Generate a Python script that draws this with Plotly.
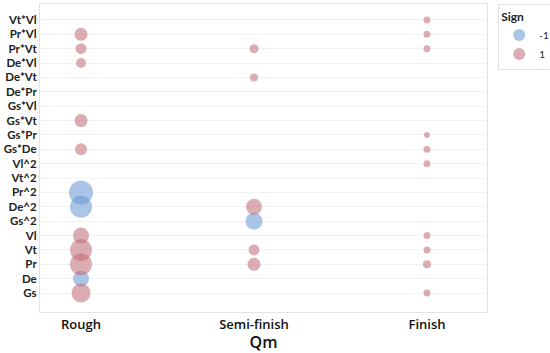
import plotly.graph_objects as go

terms = ["Gs", "De", "Pr", "Vt", "Vl", "Gs^2", "De^2", "Pr^2", "Vt^2", "Vl^2",
         "Gs*De", "Gs*Pr", "Gs*Vt", "Gs*Vl", "De*Pr", "De*Vt", "De*Vl", "Pr*Vt", "Pr*Vl", "Vt*Vl"]
qm = ["Rough", "Semi-finish", "Finish"]

# points: (qm, term, magnitude, sign)
pt_qm = ["Rough"] * 12 + ["Semi-finish"] * 6 + ["Finish"] * 10
pt_term = ["Pr*Vl", "Pr*Vt", "De*Vl", "Gs*Vt", "Gs*De", "Pr^2", "De^2", "Vl", "Vt", "Pr", "De", "Gs",
           "Pr*Vt", "De*Vt", "De^2", "Gs^2", "Vt", "Pr",
           "Vt*Vl", "Pr*Vl", "Pr*Vt", "Gs*Pr", "Gs*De", "Vl^2", "Vl", "Vt", "Pr", "Gs"]
pt_size = [13, 11, 10, 13, 12, 24, 22, 16, 22, 22, 16, 19,
           9, 8, 16, 17, 11, 13,
           7, 7, 7, 6, 7, 7, 7, 7, 8, 7]
pt_sign = [1, 1, 1, 1, 1, -1, -1, 1, 1, 1, -1, 1,
           1, 1, 1, -1, 1, 1,
           1, 1, 1, 1, 1, 1, 1, 1, 1, 1]

colors = {-1: "rgb(100,150,210)", 1: "rgb(190,105,115)"}

fig = go.Figure()
for s in [-1, 1]:
    idx = [i for i in range(len(pt_sign)) if pt_sign[i] == s]
    fig.add_trace(go.Scatter(
        x=[qm.index(pt_qm[i]) for i in idx],
        y=[terms.index(pt_term[i]) for i in idx],
        mode="markers",
        name=str(s),
        marker=dict(size=[pt_size[i] for i in idx], color=colors[s], opacity=0.55,
                    line=dict(width=0)),
    ))

fig.update_layout(
    width=550, height=353,
    margin=dict(l=40, r=63, t=4, b=41, autoexpand=False),
    plot_bgcolor="white", paper_bgcolor="white",
    font=dict(family="Lato", color="#222"),
    showlegend=True,
    legend=dict(title=dict(text="<b>Sign</b>", font=dict(size=12)), font=dict(size=10),
                x=1.025, y=1, xanchor="left", yanchor="top",
                bordercolor="#e0e0e0", borderwidth=1, itemsizing="constant",
                itemwidth=30, tracegroupgap=0),
)
fig.update_xaxes(
    tickmode="array", tickvals=[0, 1, 2], ticktext=qm,
    range=[-0.237, 2.347], showgrid=False, zeroline=False,
    showline=True, linecolor="#e3e3e3", mirror=True, automargin=False,
    tickfont=dict(family="Open Sans", size=13, color="#111", weight=600), ticks="", ticklen=0,
    title=dict(text="Qm", font=dict(family="Open Sans", size=16, color="#111", weight=600), standoff=0),
)
fig.update_yaxes(
    tickmode="array", tickvals=list(range(len(terms))), ticktext=["<b>" + t + "</b>" for t in terms],
    range=[-1.32, 20.11], showgrid=True, gridcolor="#f3f3f3", zeroline=False,
    showline=True, linecolor="#e3e3e3", mirror=True, automargin=False,
    tickfont=dict(size=11.5, color="#222"), ticklen=0, ticks="",
)

fig.write_html("out.html", config={"displayModeBar": False},
               post_script="document.body.style.margin='0';document.body.style.overflow='hidden';")
